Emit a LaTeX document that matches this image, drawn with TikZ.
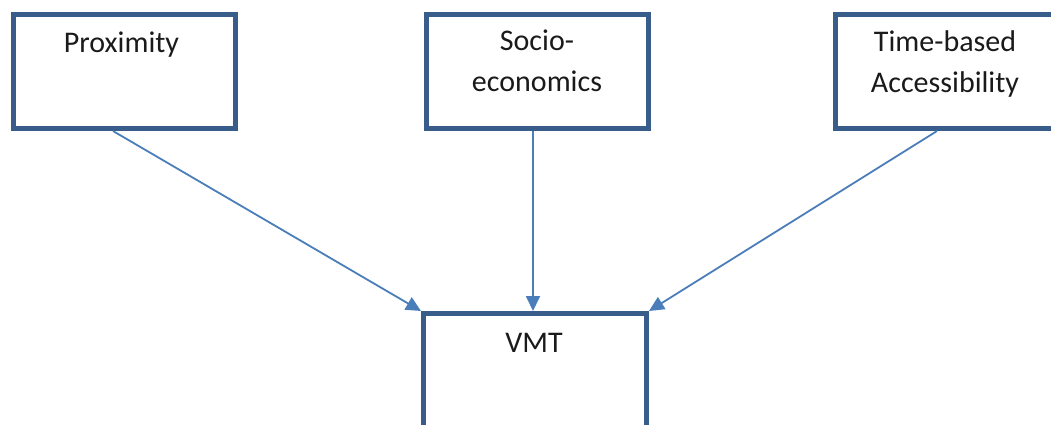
\documentclass[tikz,border=0pt]{standalone}
\usepackage{fontspec}
\setmainfont{Carlito}
\usetikzlibrary{arrows.meta}
\definecolor{boxblue}{HTML}{385D8A}
\definecolor{linkblue}{HTML}{4A7EBB}
\definecolor{txt}{HTML}{1A1A1A}
\begin{document}
\begin{tikzpicture}[x=1pt,y=-1pt,
  box/.style={draw=boxblue,line width=5pt,rectangle,fill=white,minimum width=222pt,minimum height=114pt,inner sep=0pt},
  lbl/.style={anchor=base,align=center,text=txt,inner sep=0pt,font=\fontsize{30}{41}\selectfont},
  conn/.style={draw=linkblue,line width=1.8pt,-{Triangle[length=15pt,width=14pt]}}]
\useasboundingbox (0,0) rectangle (1051,425);
\clip (0,0) rectangle (1051,425);
\fill[white] (0,0) rectangle (1051,425);
% boxes
\node[box] (prox) at (124.5,71.5) {};
\node[box] (socio) at (537.5,71.5) {};
\node[box] (time) at (946.5,71.5) {};
\node[box,minimum width=223pt] (vmt) at (535,370.5) {};
% texts (anchor at baseline of the last line)
\node[lbl] (proxt) at (121.5,53) {Proximity};
\node[lbl] (sociot) at (537,91.5) {Socio-\\economics};
\node[lbl] (timet) at (945,93) {Time-based\\Accessibility};
\node[lbl] (vmtt) at (534,352) {VMT};
% connectors
\draw[conn] ([xshift=-11.5pt]prox.south) -- (vmt.north west);
\draw[conn] ([xshift=-4.5pt]socio.south) -- ([xshift=-2pt]vmt.north);
\draw[conn] ([xshift=-9.5pt]time.south) -- (vmt.north east);
\end{tikzpicture}
\end{document}
